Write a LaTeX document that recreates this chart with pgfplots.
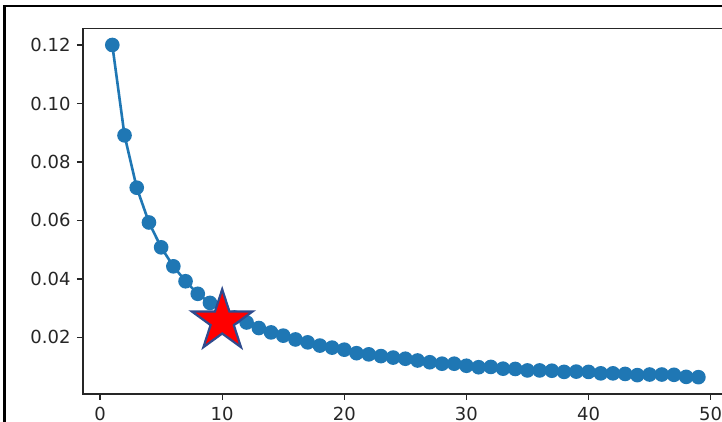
\documentclass[border=0pt]{standalone}
\usepackage{pgfplots}
\pgfplotsset{compat=1.18}
\usepackage{fontspec}
\setmainfont{DejaVu Sans}

\definecolor{mplblue}{HTML}{1F77B4}
\definecolor{staredge}{HTML}{2F4B8E}
\definecolor{ticktext}{HTML}{262626}

% filled five-pointed star, like matplotlib's '*' marker
\pgfdeclareplotmark{bigstar}{%
  \pgfpathmoveto{\pgfpointpolar{90}{\pgfplotmarksize}}%
  \pgfpathlineto{\pgfpointpolar{126}{0.382\pgfplotmarksize}}%
  \pgfpathlineto{\pgfpointpolar{162}{\pgfplotmarksize}}%
  \pgfpathlineto{\pgfpointpolar{198}{0.382\pgfplotmarksize}}%
  \pgfpathlineto{\pgfpointpolar{234}{\pgfplotmarksize}}%
  \pgfpathlineto{\pgfpointpolar{270}{0.382\pgfplotmarksize}}%
  \pgfpathlineto{\pgfpointpolar{306}{\pgfplotmarksize}}%
  \pgfpathlineto{\pgfpointpolar{342}{0.382\pgfplotmarksize}}%
  \pgfpathlineto{\pgfpointpolar{18}{\pgfplotmarksize}}%
  \pgfpathlineto{\pgfpointpolar{54}{0.382\pgfplotmarksize}}%
  \pgfpathclose
  \pgfusepathqfillstroke
}

\begin{document}
\begin{tikzpicture}
\useasboundingbox (0pt,0pt) rectangle (722pt,422pt);
\clip (0pt,0pt) rectangle (722pt,422pt);
\fill[white] (0pt,0pt) rectangle (722pt,422pt);

\begin{axis}[
    at={(83pt,28pt)}, anchor=south west,
    scale only axis,
    width=644.7pt, height=365.3pt,
    xmin=-1.4, xmax=51.4,
    ymin=0.00064, ymax=0.12557,
    xtick={0,10,20,30,40,50},
    ytick={0.02,0.04,0.06,0.08,0.10,0.12},
    scaled y ticks=false,
    yticklabel style={xshift=-3pt, /pgf/number format/.cd, fixed, fixed zerofill, precision=2},
    xticklabel style={yshift=-4pt},
    /pgf/number format/assume math mode=true,
    tick label style={font=\fontsize{18}{21}\selectfont, text=ticktext},
    tick align=outside, tick pos=left,
    major tick length=6pt,
    tick style={line width=1.3pt, black!85},
    axis line style={line width=1.3pt, black!85},
    clip=false,
]
\addplot[color=mplblue, line width=2.6pt, mark=*, mark size=6pt,
         mark options={fill=mplblue, draw=none}] coordinates {
    (1,0.1200) (2,0.0891) (3,0.0712) (4,0.0593) (5,0.0508)
    (6,0.0443) (7,0.0392) (8,0.0349) (9,0.0318) (10,0.0292)
    (11,0.0268) (12,0.0251) (13,0.0232) (14,0.0217) (15,0.0206)
    (16,0.0193) (17,0.0183) (18,0.0172) (19,0.0165) (20,0.0158)
    (21,0.0146) (22,0.0142) (23,0.0136) (24,0.0131) (25,0.0127)
    (26,0.0121) (27,0.0115) (28,0.0110) (29,0.0110) (30,0.0103)
    (31,0.0098) (32,0.0099) (33,0.0093) (34,0.0092) (35,0.0087)
    (36,0.0087) (37,0.0086) (38,0.0082) (39,0.0083) (40,0.0082)
    (41,0.0077) (42,0.0077) (43,0.0075) (44,0.0071) (45,0.0073)
    (46,0.0073) (47,0.0072) (48,0.0065) (49,0.0064)
};
\addplot[only marks, mark=bigstar, mark size=32pt,
         mark options={fill=red, draw=staredge, line width=2.2pt}] coordinates {
    (10,0.0255)
};
\end{axis}

% black frame of the surrounding cell
\draw[line width=2.5pt, black] (4.7pt,0pt) -- (4.7pt,415.8pt) -- (722pt,415.8pt);
\end{tikzpicture}
\end{document}
